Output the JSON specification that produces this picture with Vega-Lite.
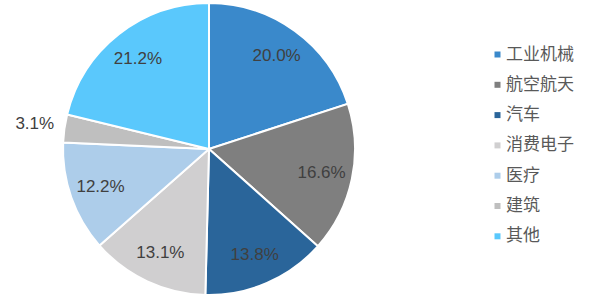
{
  "$schema": "https://vega.github.io/schema/vega-lite/v6.json",
  "width": 418,
  "height": 298,
  "padding": {"left": 0, "top": 0, "right": 193, "bottom": 2},
  "autosize": {"type": "none"},
  "background": "white",
  "view": {"stroke": null},
  "data": {
    "values": [
      {"name": "工业机械", "value": 20.0, "order": 1, "label": "20.0%"},
      {"name": "航空航天", "value": 16.6, "order": 2, "label": "16.6%"},
      {"name": "汽车", "value": 13.8, "order": 3, "label": "13.8%"},
      {"name": "消费电子", "value": 13.1, "order": 4, "label": "13.1%"},
      {"name": "医疗", "value": 12.2, "order": 5, "label": "12.2%"},
      {"name": "建筑", "value": 3.1, "order": 6, "label": "3.1%"},
      {"name": "其他", "value": 21.2, "order": 7, "label": "21.2%"}
    ]
  },
  "encoding": {
    "theta": {"field": "value", "type": "quantitative", "stack": true},
    "order": {"field": "order", "type": "quantitative", "sort": "ascending"}
  },
  "layer": [
    {
      "mark": {"type": "arc", "outerRadius": 146, "stroke": "white", "strokeWidth": 2},
      "encoding": {
        "color": {
          "field": "name",
          "type": "nominal",
          "sort": ["工业机械", "航空航天", "汽车", "消费电子", "医疗", "建筑", "其他"],
          "scale": {
            "domain": ["工业机械", "航空航天", "汽车", "消费电子", "医疗", "建筑", "其他"],
            "range": ["#3A89CB", "#7F7F7F", "#2A659A", "#D0CFD0", "#ADCDEA", "#BFBFBF", "#5AC8FC"]
          },
          "legend": {
            "title": null,
            "orient": "none",
            "legendX": 489,
            "legendY": 46,
            "symbolType": "square",
            "symbolSize": 36,
            "symbolStrokeWidth": 0,
            "labelFont": "Noto Sans CJK SC",
            "labelFontSize": 17,
            "labelColor": "#595959",
            "labelOffset": 0,
            "rowPadding": 12.3,
            "symbolOffset": 0
          }
        }
      }
    },
    {
      "mark": {"type": "text", "radius": 115, "font": "Liberation Sans", "fontSize": 17, "fill": "#404040"},
      "encoding": {"text": {"condition": {"test": "datum.value >= 5", "field": "label"}, "value": ""}}
    },
    {
      "mark": {"type": "text", "radius": 176, "font": "Liberation Sans", "fontSize": 17, "fill": "#404040"},
      "encoding": {"text": {"condition": {"test": "datum.value < 5", "field": "label"}, "value": ""}}
    }
  ]
}
